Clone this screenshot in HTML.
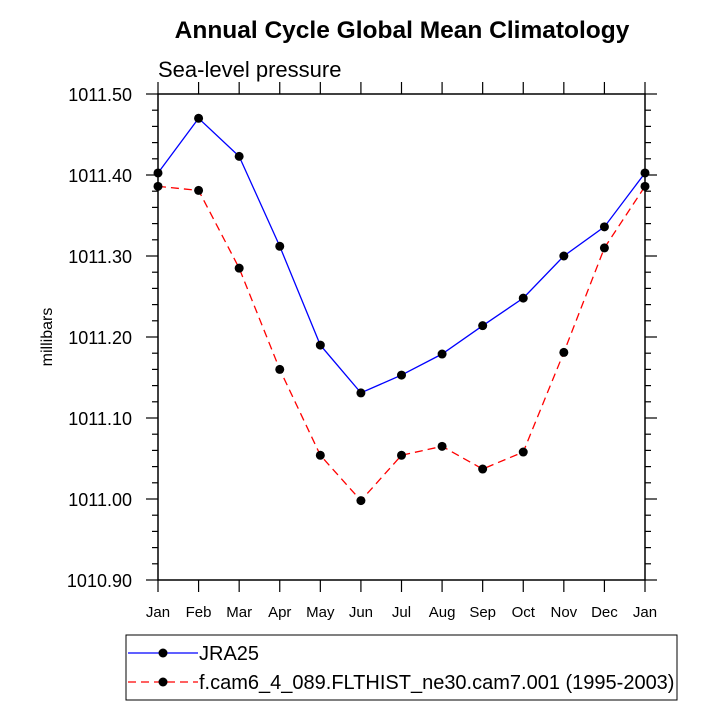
<!DOCTYPE html>
<html><head><meta charset="utf-8"><style>
html,body{margin:0;padding:0;background:#fff;}
svg{display:block;font-family:"Liberation Sans",Arial,sans-serif;}
</style></head><body>
<svg id="chart" width="720" height="720" viewBox="0 0 720 720">
<text x="402" y="38" text-anchor="middle" font-size="24.5" font-weight="bold">Annual Cycle Global Mean Climatology</text>
<text x="158" y="77" font-size="22">Sea-level pressure</text>
<text transform="translate(52,337) rotate(-90)" text-anchor="middle" font-size="16">millibars</text>
<g id="axes"></g>
<g id="series"></g>
<rect x="126" y="635" width="551" height="65" fill="none" stroke="#000" stroke-width="1"/>
<g id="legend"></g>
</svg>
<script>
const months = ["Jan","Feb","Mar","Apr","May","Jun","Jul","Aug","Sep","Oct","Nov","Dec","Jan"];
const jra25 = [1011.4025,1011.470,1011.423,1011.312,1011.190,1011.131,1011.153,1011.179,1011.214,1011.248,1011.300,1011.336,1011.4025];
const model = [1011.386,1011.381,1011.285,1011.160,1011.054,1010.998,1011.054,1011.065,1011.037,1011.058,1011.181,1011.310,1011.386];
const yTicks = [1010.90,1011.00,1011.10,1011.20,1011.30,1011.40,1011.50];
const yTickLabels = ["1010.90","1011.00","1011.10","1011.20","1011.30","1011.40","1011.50"];
const seriesNames = ["JRA25","f.cam6_4_089.FLTHIST_ne30.cam7.001 (1995-2003)"];

const X0=158,X1=645,Y0=94,Y1=580,YMIN=1010.9,YMAX=1011.5;
const xs=i=>X0+(X1-X0)*i/(months.length-1);
const ys=v=>Y1-(v-YMIN)/(YMAX-YMIN)*(Y1-Y0);
const NS="http://www.w3.org/2000/svg";
function mk(tag,attrs,parent){const e=document.createElementNS(NS,tag);for(const k in attrs)e.setAttribute(k,attrs[k]);parent.appendChild(e);return e;}
const axes=document.getElementById('axes');
const frame=mk('rect',{x:X0,y:Y0,width:X1-X0,height:Y1-Y0,fill:'none',stroke:'#000','stroke-width':1.5},axes);


months.forEach((m,i)=>{
  const x=xs(i);
  mk('line',{x1:x,x2:x,y1:Y1,y2:Y1+12,stroke:'#000','stroke-width':1.2},axes);
  mk('line',{x1:x,x2:x,y1:Y0,y2:Y0-12,stroke:'#000','stroke-width':1.2},axes);
  const t=mk('text',{x:x,y:Y1+37,'text-anchor':'middle','font-size':15},axes);
  t.textContent=m;
  
  
});
for(let k=0;k<=30;k++){
  const v=YMIN+k*0.02,y=ys(v),major=k%5===0,len=major?12:6;
  mk('line',{x1:X0-len,x2:X0,y1:y,y2:y,stroke:'#000','stroke-width':1.2},axes);
  mk('line',{x1:X1,x2:X1+len,y1:y,y2:y,stroke:'#000','stroke-width':1.2},axes);
}
yTicks.forEach((v,i)=>{
  const t=mk('text',{x:X0-26,y:ys(v)+7,'text-anchor':'end','font-size':18},axes);
  t.textContent=yTickLabels[i];
  
  
});
const sg=document.getElementById('series');
function drawSeries(vals,color,dash,name){
  const g=mk('g',{},sg);
  
  
  const pts=vals.map((v,i)=>xs(i)+','+ys(v)).join(' ');
  const l=mk('polyline',{points:pts,fill:'none',stroke:color,'stroke-width':1.3,'stroke-dasharray':dash},g);
  
  
  vals.forEach((v,i)=>{
    const c=mk('circle',{cx:xs(i),cy:ys(v),r:4.5,fill:'#000'},g);
    
    
  });
}
drawSeries(model,'#f00','8,5','model-series');
drawSeries(jra25,'#00f','none','jra25-series');
const lg=document.getElementById('legend');
[[653,'#00f','none'],[682,'#f00','8,5']].forEach((d,i)=>{
  const g=mk('g',{},lg);
  
  
  mk('line',{x1:128,x2:198,y1:d[0],y2:d[0],stroke:d[1],'stroke-width':1.3,'stroke-dasharray':d[2]},g);
  mk('circle',{cx:163,cy:d[0],r:4.5,fill:'#000'},g);
  const t=mk('text',{x:199,y:d[0]+7,'font-size':20},g);
  t.textContent=seriesNames[i];
});
</script>
</body></html>
